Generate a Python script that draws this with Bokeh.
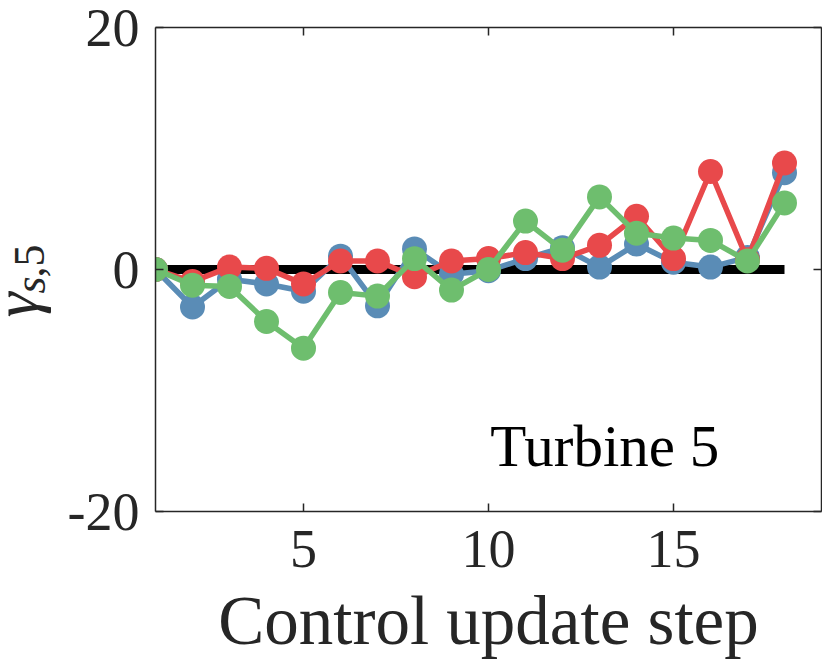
import math
from bokeh.plotting import figure
from bokeh.layouts import row
from bokeh.models import LinearAxis, FixedTicker, Label, Range1d
from bokeh.embed import file_html
from bokeh.resources import INLINE

steps = list(range(1, 19))
blue = [0, -3.1, -0.8, -1.2, -1.8, 1.1, -3.0, 1.7, -0.4, -0.1, 0.9, 1.8, 0.2, 2.1, 0.6, 0.2, 1.0, 8.0]
red = [0, -1.0, 0.2, 0.1, -1.2, 0.7, 0.7, -0.6, 0.7, 0.9, 1.4, 0.9, 2.0, 4.4, 0.9, 8.1, 0.8, 8.8]
green = [0, -1.3, -1.4, -4.3, -6.5, -1.9, -2.2, 0.9, -1.7, 0.0, 4.0, 1.6, 6.0, 3.0, 2.6, 2.4, 0.7, 5.5]
zero_line = [0] * len(steps)
x_ticks = [5, 10, 15]
y_ticks = [-20, 0, 20]
y_tick_labels = {-20: "-20", 0: "0", 20: "20"}

FONT = "Liberation Serif"
AX = "#262626"
H = 661
LABEL_W = 56

p = figure(frame_width=666, frame_height=484, output_backend="svg",
           toolbar_location=None, x_range=Range1d(1, 19), y_range=Range1d(-20, 20),
           min_border_left=155 - LABEL_W, min_border_top=27, min_border_bottom=150,
           min_border_right=1, x_axis_location=None, y_axis_location=None)
p.grid.visible = False
p.outline_line_color = None
p.background_fill_color = "white"
p.border_fill_color = "white"


def style_axis(ax, ticks, show_labels):
    ax.ticker = FixedTicker(ticks=ticks)
    ax.axis_line_color = AX
    ax.axis_line_width = 1.5
    ax.major_tick_line_color = AX
    ax.major_tick_line_width = 1.5
    ax.major_tick_in = 8
    ax.major_tick_out = 0
    ax.minor_tick_line_color = None
    ax.major_label_text_font = FONT
    ax.major_label_text_color = "#262626"
    if show_labels:
        ax.major_label_text_font_size = "54px"
    else:
        ax.major_label_text_font_size = "0px"
        ax.major_label_standoff = 0


xb = LinearAxis()
style_axis(xb, x_ticks, True)
xb.major_label_standoff = 19
xb.axis_label = "Control update step"
xb.axis_label_text_font = FONT
xb.axis_label_text_font_size = "69px"
xb.axis_label_text_font_style = "normal"
xb.axis_label_text_color = "#262626"
xb.axis_label_standoff = 13
p.add_layout(xb, "below")

yl = LinearAxis()
style_axis(yl, y_ticks, True)
yl.major_label_standoff = 16
yl.major_label_overrides = y_tick_labels
p.add_layout(yl, "left")

xt = LinearAxis()
style_axis(xt, x_ticks, False)
p.add_layout(xt, "above")

yr = LinearAxis()
style_axis(yr, y_ticks, False)
p.add_layout(yr, "right")

p.line(steps, zero_line, line_color="black", line_width=9, line_cap="butt")

series = [(blue, "#5A8CB6"), (red, "#E8494B"), (green, "#6EBE6E")]
for vals, col in series:
    p.line(steps, vals, line_color=col, line_width=5.5)
    p.scatter(steps, vals, size=25, fill_color=col, line_color=col, line_width=0)

p.add_layout(Label(x=10.05, y=-14.6, text="Turbine 5", text_font=FONT,
                   text_font_size="59px", text_color="black", text_baseline="alphabetic"))

# y-axis label: gamma with subscript s,5, drawn in a narrow strip at the left
# (strip's data coordinates are pixels: x from left, y from bottom)
lab = figure(frame_width=LABEL_W, frame_height=H, output_backend="svg", toolbar_location=None,
             min_border_left=0, min_border_right=0, min_border_top=0, min_border_bottom=0,
             x_axis_location=None, y_axis_location=None,
             x_range=Range1d(0, LABEL_W), y_range=Range1d(0, H))
lab.grid.visible = False
lab.outline_line_color = None
lab.border_fill_color = "white"
lab.background_fill_color = "white"
lab.add_layout(Label(x=15, y=H - 290, angle=math.pi / 2,
                     text="γ", text_font=FONT, text_font_style="italic",
                     text_font_size="64px", text_color="#262626", text_baseline="alphabetic"))
lab.add_layout(Label(x=30, y=H - 266, angle=math.pi / 2,
                     text="s", text_font=FONT, text_font_style="italic",
                     text_font_size="44px", text_color="#262626", text_baseline="alphabetic"))
lab.add_layout(Label(x=29, y=H - 250, angle=math.pi / 2,
                     text=",5", text_font=FONT,
                     text_font_size="44px", text_color="#262626", text_baseline="alphabetic"))

layout = row(lab, p, spacing=0)
open("out.html", "w").write(file_html(layout, INLINE))
